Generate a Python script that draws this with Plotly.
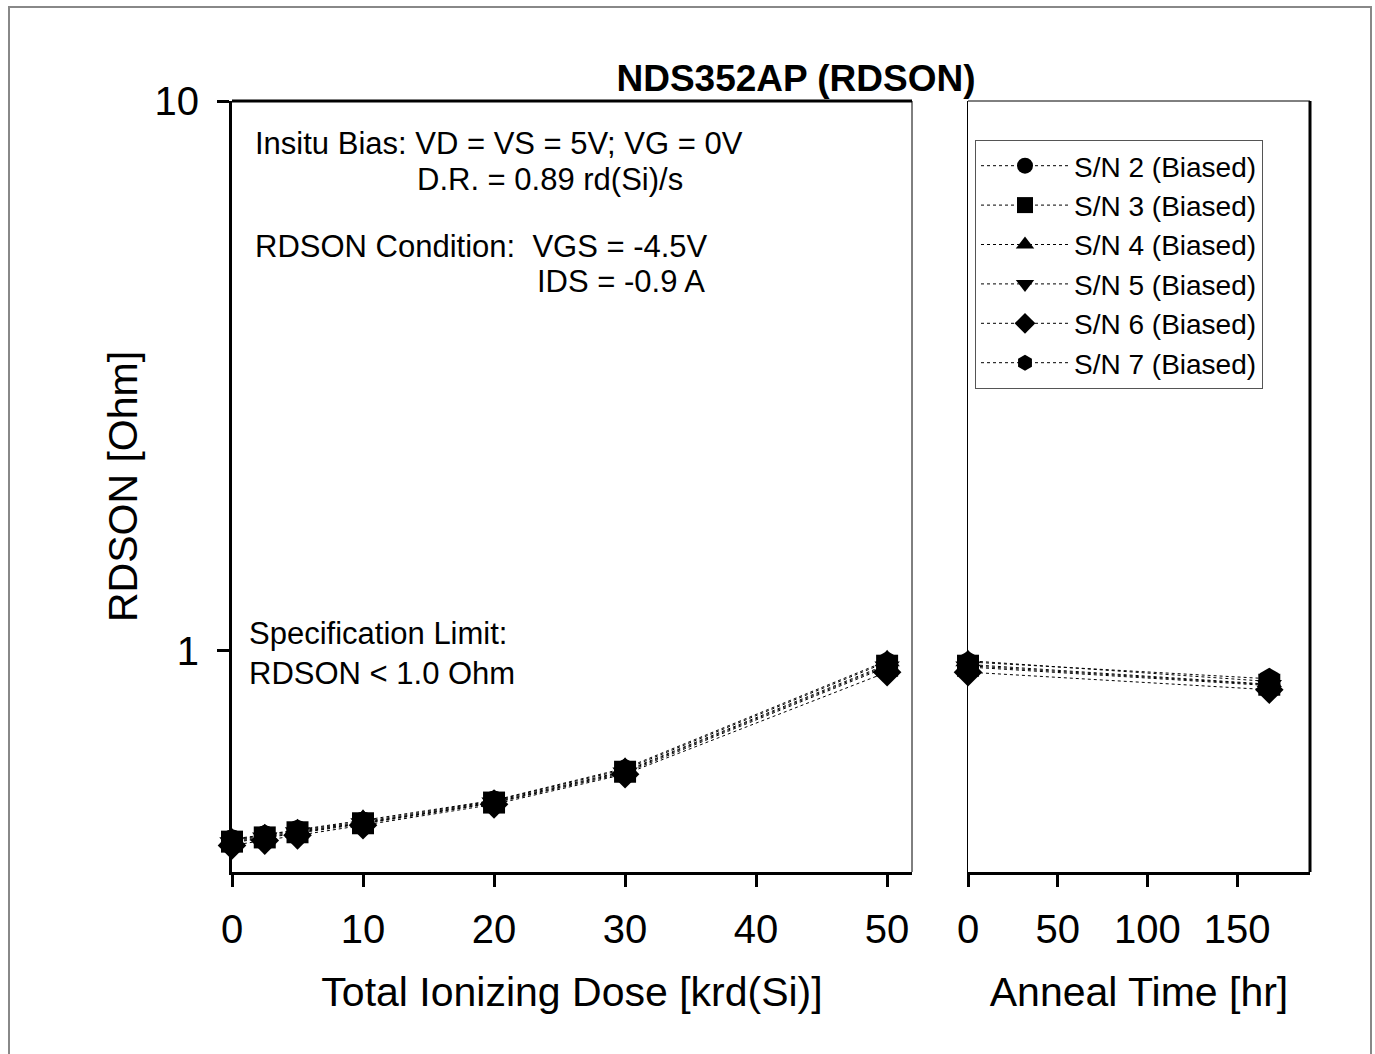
import math
import plotly.graph_objects as go

# ---------------- data ----------------
dose = [0, 2.5, 5, 10, 20, 30, 50]
anneal = [0, 168]

series_names = ["S/N 2 (Biased)", "S/N 3 (Biased)", "S/N 4 (Biased)",
                "S/N 5 (Biased)", "S/N 6 (Biased)", "S/N 7 (Biased)"]
sn2_dose = [0.452, 0.460, 0.470, 0.487, 0.532, 0.605, 0.945]
sn3_dose = [0.450, 0.458, 0.468, 0.486, 0.530, 0.603, 0.940]
sn4_dose = [0.455, 0.463, 0.473, 0.492, 0.535, 0.612, 0.960]
sn5_dose = [0.448, 0.457, 0.467, 0.485, 0.529, 0.600, 0.935]
sn6_dose = [0.443, 0.452, 0.462, 0.482, 0.526, 0.597, 0.915]
sn7_dose = [0.453, 0.462, 0.472, 0.489, 0.534, 0.609, 0.955]

sn2_anneal = [0.945, 0.870]
sn3_anneal = [0.940, 0.868]
sn4_anneal = [0.960, 0.880]
sn5_anneal = [0.935, 0.865]
sn6_anneal = [0.915, 0.850]
sn7_anneal = [0.955, 0.890]

spec_limit = 1.0
x_ticks_dose = [0, 10, 20, 30, 40, 50]
x_ticks_anneal = [0, 50, 100, 150]
y_ticks = [1, 10]

# ---------------- styling ----------------
symbols = ["circle", "square", "triangle-up", "triangle-down", "diamond", "hexagon"]
FONT = "Liberation Sans, Arial, sans-serif"

dose_sets = [sn2_dose, sn3_dose, sn4_dose, sn5_dose, sn6_dose, sn7_dose]
anneal_sets = [sn2_anneal, sn3_anneal, sn4_anneal, sn5_anneal, sn6_anneal, sn7_anneal]

fig = go.Figure()
for name, sym, yd, ya in zip(series_names, symbols, dose_sets, anneal_sets):
    fig.add_trace(go.Scatter(
        x=dose, y=yd, name=name, mode="lines+markers",
        line=dict(color="black", width=1, dash="dot"),
        marker=dict(symbol=sym, size=22, color="black"),
        cliponaxis=False, xaxis="x", yaxis="y"))
    fig.add_trace(go.Scatter(
        x=anneal, y=ya, name=name, mode="lines+markers", showlegend=False,
        line=dict(color="black", width=1, dash="dot"),
        marker=dict(symbol=sym, size=22, color="black"),
        cliponaxis=False, xaxis="x2", yaxis="y2"))

L, R, T, B = 232, 65, 101, 182
W, H = 1375, 1054
pw = W - L - R
ph = H - T - B
d1 = (912 - L) / pw
d2 = (968 - L) / pw

def px(x):
    return (x - L) / pw

def py(y):
    return (H - B - y) / ph

tick_font = dict(family=FONT, size=40, color="black")
title_font = dict(family=FONT, size=41, color="black")

fig.update_layout(
    width=W, height=H,
    margin=dict(l=L, r=R, t=T, b=B),
    paper_bgcolor="white", plot_bgcolor="white",
    font=dict(family=FONT, color="black"),
    title=dict(text="<b>NDS352AP (RDSON)</b>", x=px(796), xref="paper",
               xanchor="center", y=1 - 78 / H, yanchor="middle",
               font=dict(family=FONT, size=37, color="black")),
    xaxis=dict(domain=[0, d1], range=[0, 51.9], tickvals=x_ticks_dose,
               ticks="outside", ticklen=12, tickwidth=3, tickcolor="black",
               showline=True, linewidth=3, linecolor="black", showgrid=False,
               zeroline=False, tickfont=tick_font, ticklabelstandoff=8,
               title=dict(text="Total Ionizing Dose [krd(Si)]", font=title_font, standoff=28),
               anchor="y"),
    yaxis=dict(type="log", range=[-0.402, 1], tickvals=y_ticks,
               ticktext=[str(v) for v in y_ticks],
               ticks="outside", ticklen=12, tickwidth=3, tickcolor="black",
               showline=True, linewidth=3, linecolor="black", showgrid=False,
               zeroline=False, tickfont=tick_font, ticklabelstandoff=10,
               title=dict(text="RDSON [Ohm]", font=title_font, standoff=5),
               anchor="x"),
    xaxis2=dict(domain=[d2, 1], range=[0, 190.7], tickvals=x_ticks_anneal,
                ticks="outside", ticklen=12, tickwidth=3, tickcolor="black",
                showline=True, linewidth=3, linecolor="black", showgrid=False,
                zeroline=False, tickfont=tick_font, ticklabelstandoff=8,
                title=dict(text="Anneal Time [hr]", font=title_font, standoff=28),
                anchor="y2"),
    yaxis2=dict(type="log", range=[-0.402, 1], showticklabels=False, ticks="",
                showline=True, linewidth=1, linecolor="black", showgrid=False,
                zeroline=False, anchor="x2"),
    legend=dict(x=px(975), y=py(140), xanchor="left", yanchor="top",
                bgcolor="white", bordercolor="#555555", borderwidth=1,
                font=dict(family=FONT, size=28, color="black"),
                itemwidth=88, tracegroupgap=0),
    showlegend=True,
)

shapes = []
# left panel: top thick, right thin
shapes.append(dict(type="line", xref="x domain", yref="y domain", x0=0, x1=1, y0=1, y1=1,
                   line=dict(color="black", width=3)))
shapes.append(dict(type="line", xref="x domain", yref="y domain", x0=1, x1=1, y0=0, y1=1,
                   line=dict(color="black", width=1)))
# right panel: top thin, right thick
shapes.append(dict(type="line", xref="x2 domain", yref="y2 domain", x0=0, x1=1, y0=1, y1=1,
                   line=dict(color="black", width=1)))
shapes.append(dict(type="line", xref="x2 domain", yref="y2 domain", x0=1, x1=1, y0=0, y1=1,
                   line=dict(color="black", width=3)))
# specification limit dashed line (log axis -> log10 value)
shapes.append(dict(type="line", xref="paper", yref="y", x0=0, x1=1,
                   y0=math.log10(spec_limit), y1=math.log10(spec_limit),
                   line=dict(color="black", width=1.5, dash="26px,10px")))
# outer frame
shapes.append(dict(type="rect", xref="paper", yref="paper",
                   x0=px(9), x1=px(1371), y0=py(1062), y1=py(7),
                   line=dict(color="#888888", width=2), fillcolor="rgba(0,0,0,0)",
                   layer="below"))
fig.update_layout(shapes=shapes)

ann_font = dict(family=FONT, size=31, color="black")
texts = [
    ("Insitu Bias: VD = VS = 5V; VG = 0V", 253, 143),
    ("D.R. = 0.89 rd(Si)/s", 415, 179),
    ("RDSON Condition:  VGS = -4.5V", 253, 246),
    ("IDS = -0.9 A", 535, 281),
    ("Specification Limit:", 247, 633),
    ("RDSON &lt; 1.0 Ohm", 247, 673),
]
for t, x, y in texts:
    fig.add_annotation(text=t, xref="paper", yref="paper", x=px(x), y=py(y),
                       xanchor="left", yanchor="middle", showarrow=False,
                       font=ann_font)

fig.write_html("out.html")
